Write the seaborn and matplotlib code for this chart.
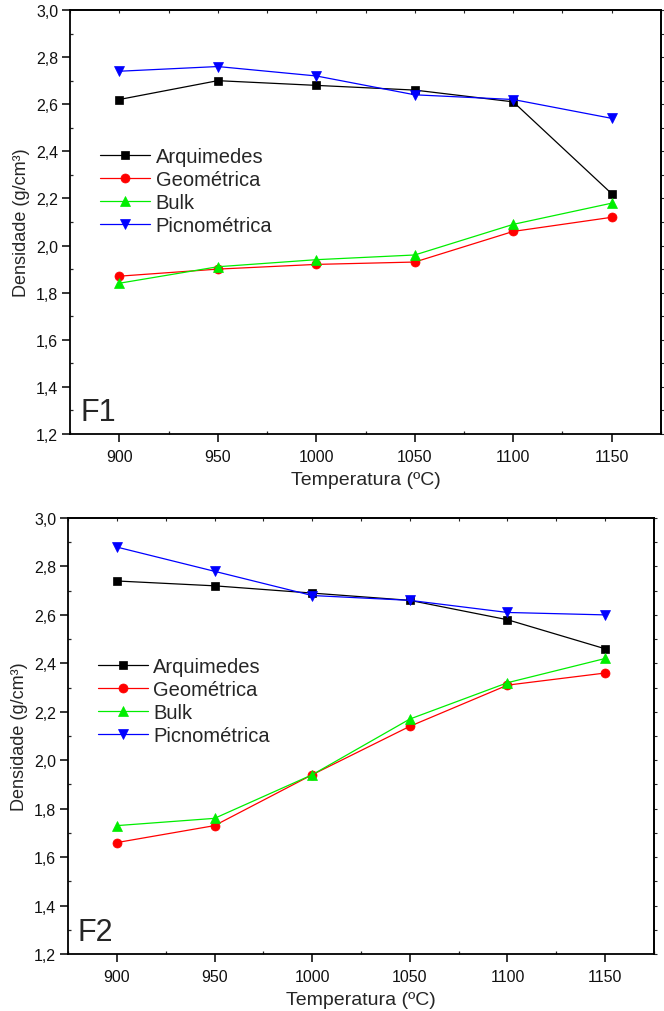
import matplotlib
matplotlib.use("Agg")
import matplotlib.pyplot as plt
import seaborn as sns
import pandas as pd
from matplotlib.ticker import MultipleLocator, FuncFormatter, NullFormatter

temperatures = [900, 950, 1000, 1050, 1100, 1150]
series_names = ["Arquimedes", "Geométrica", "Bulk", "Picnométrica"]

f1_arquimedes = [2.62, 2.70, 2.68, 2.66, 2.61, 2.22]
f1_geometrica = [1.87, 1.90, 1.92, 1.93, 2.06, 2.12]
f1_bulk = [1.84, 1.91, 1.94, 1.96, 2.09, 2.18]
f1_picnometrica = [2.74, 2.76, 2.72, 2.64, 2.62, 2.54]

f2_arquimedes = [2.74, 2.72, 2.69, 2.66, 2.58, 2.46]
f2_geometrica = [1.66, 1.73, 1.94, 2.14, 2.31, 2.36]
f2_bulk = [1.73, 1.76, 1.94, 2.17, 2.32, 2.42]
f2_picnometrica = [2.88, 2.78, 2.68, 2.66, 2.61, 2.60]

panel_labels = ["F1", "F2"]
x_label = "Temperatura (ºC)"
y_label = "Densidade (g/cm³)"

sns.set_style("ticks")
plt.rcParams["font.family"] = ["Liberation Sans", "DejaVu Sans"]

colors = ["#000000", "#ff0000", "#00ee00", "#0000ff"]
markers = ["s", "o", "^", "v"]
msizes = [6, 6.5, 7, 7]

fig = plt.figure(figsize=(6.64, 10.12), dpi=100)
ax1 = fig.add_axes([70 / 664, 1 - 435 / 1012, (661 - 70) / 664, 424 / 1012])
ax2 = fig.add_axes([68 / 664, 1 - 955 / 1012, (654 - 68) / 664, 436 / 1012])

panels = [
    (ax1, [f1_arquimedes, f1_geometrica, f1_bulk, f1_picnometrica], 0.573),
    (ax2, [f2_arquimedes, f2_geometrica, f2_bulk, f2_picnometrica], 0.580),
]

comma = FuncFormatter(lambda v, p: f"{v:.1f}".replace(".", ","))

for i, (ax, data, leg_y) in enumerate(panels):
    rows = []
    for name, vals in zip(series_names, data):
        for t, v in zip(temperatures, vals):
            rows.append({"Temperatura": t, "Densidade": v, "Serie": name})
    df = pd.DataFrame(rows)
    for name, c, m, ms in zip(series_names, colors, markers, msizes):
        sub = df[df["Serie"] == name]
        sns.lineplot(data=sub, x="Temperatura", y="Densidade", ax=ax,
                     color=c, marker=m, markersize=ms, markeredgecolor=c,
                     markeredgewidth=0.5, linewidth=0.9, label=name)
    ax.set_xlim(875, 1175)
    ax.set_ylim(1.2, 3.0)
    ax.xaxis.set_major_locator(MultipleLocator(50))
    ax.xaxis.set_minor_locator(MultipleLocator(25))
    ax.yaxis.set_major_locator(MultipleLocator(0.2))
    ax.yaxis.set_minor_locator(MultipleLocator(0.1))
    ax.yaxis.set_major_formatter(comma)
    ax.tick_params(axis="both", which="major", labelsize=11.5, length=5.5, width=1.1,
                   direction="out", pad=3, colors="black", labelcolor="#111111")
    ax.tick_params(axis="x", which="major", pad=5)
    ax.tick_params(axis="both", which="minor", length=2, width=0.9, direction="in")
    for sp in ax.spines.values():
        sp.set_visible(True)
        sp.set_linewidth(1.3)
        sp.set_color("black")

    secx = ax.secondary_xaxis("top")
    secx.xaxis.set_major_locator(MultipleLocator(25))
    secx.xaxis.set_major_formatter(NullFormatter())
    secx.tick_params(axis="x", length=2, width=0.8, direction="in")
    secx.spines["top"].set_linewidth(1.3)
    secy = ax.secondary_yaxis("right")
    secy.yaxis.set_major_locator(MultipleLocator(0.1))
    secy.yaxis.set_major_formatter(NullFormatter())
    secy.tick_params(axis="y", length=2.5, width=0.8, direction="out")
    secy.spines["right"].set_linewidth(1.3)

    ax.set_xlabel(x_label, fontsize=14, labelpad=5)
    ax.set_ylabel(y_label, fontsize=13, labelpad=4)
    ax.legend(loc="center left", bbox_to_anchor=(0.051, leg_y), frameon=False,
              fontsize=14.5, handlelength=2.5, handletextpad=0.25,
              labelspacing=0.2, borderpad=0, borderaxespad=0, numpoints=1)
    ax.text(0.017, 0.017, panel_labels[i], transform=ax.transAxes, fontsize=22,
            ha="left", va="bottom")

fig.savefig("out.png", dpi=100, facecolor="white")
